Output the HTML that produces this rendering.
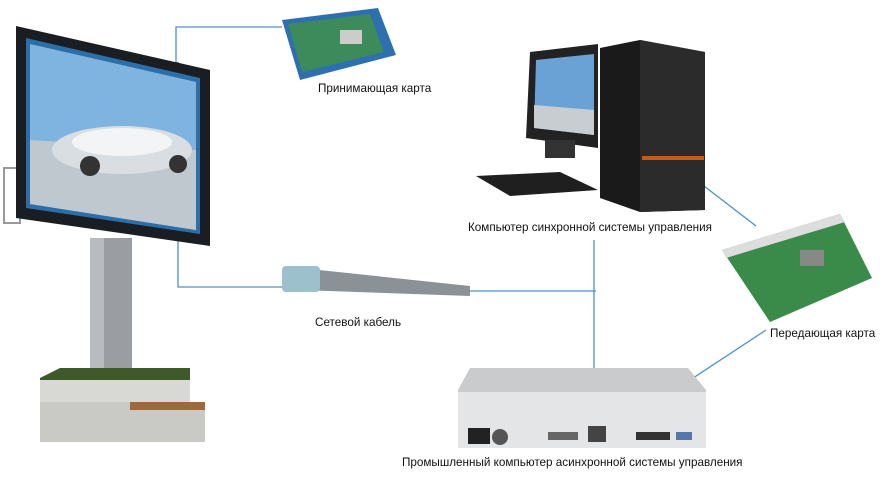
<!DOCTYPE html>
<html><head><meta charset="utf-8"><style>
body{margin:0;width:884px;height:490px;background:#fff;position:relative;overflow:hidden;font-family:"Liberation Sans",sans-serif}
.a{position:absolute}
.t{position:absolute;font-size:11.7px;color:#111;white-space:nowrap}
</style></head><body>
<svg class="a" style="left:0;top:0" width="884" height="490">
<g stroke="#4a90c8" stroke-width="1.3" fill="none">
<polyline points="176,70 176,27 282,27"/>
<polyline points="178,240 178,287 286,287"/>
<line x1="468" y1="291" x2="596" y2="291"/>
<line x1="594" y1="240" x2="594" y2="368"/>
<line x1="678" y1="166" x2="756" y2="226"/>
<line x1="766" y1="330" x2="684" y2="384"/>
</g>
<polygon points="684,384 688,376 692,382" fill="#4a90c8"/>
<polygon points="176,70 173,62 179,62" fill="#4a90c8"/>
<rect x="90" y="238" width="42" height="140" fill="#9a9ea3"/>
<rect x="90" y="238" width="14" height="140" fill="#b8bcc0"/>
<polygon points="40,378 60,368 190,368 190,385 40,385" fill="#3f5a2a"/>
<rect x="40" y="380" width="150" height="24" fill="#d8d8d5"/>
<rect x="40" y="402" width="165" height="40" fill="#c9c9c6"/>
<rect x="130" y="402" width="75" height="8" fill="#a0683a"/>
<rect x="4" y="168" width="16" height="55" fill="none" stroke="#999" stroke-width="2"/>
<polygon points="16,26 210,70 210,246 16,218" fill="#1a1d22"/>
<polygon points="26,38 200,78 200,234 26,208" fill="#2c6fa8"/>
<polygon points="30,44 196,82 196,230 30,204" fill="#7fb4e0"/>
<polygon points="30,140 196,150 196,230 30,204" fill="#bfc8cf"/>
<ellipse cx="122" cy="150" rx="70" ry="24" fill="#d9dee2"/>
<ellipse cx="122" cy="142" rx="50" ry="14" fill="#f2f4f6"/>
<circle cx="90" cy="166" r="10" fill="#333"/><circle cx="178" cy="164" r="9" fill="#333"/>
<polygon points="282,20 378,8 396,55 300,80" fill="#2e6fb0"/>
<polygon points="288,24 370,14 384,52 302,72" fill="#3d8a5a"/>
<rect x="340" y="30" width="22" height="14" fill="#ccc"/>
<polygon points="530,52 598,44 598,148 526,138" fill="#222"/>
<polygon points="536,60 594,54 594,135 534,128" fill="#6aa2d6"/>
<polygon points="534,105 594,110 594,135 534,128" fill="#c8cdd2"/>
<rect x="545" y="140" width="30" height="18" fill="#333"/>
<polygon points="600,48 640,40 705,52 705,210 640,212 600,198" fill="#1a1a1a"/>
<polygon points="640,40 705,52 705,210 640,212" fill="#2b2b2b"/>
<rect x="642" y="156" width="62" height="4" fill="#c85a1c"/>
<polygon points="476,176 560,172 598,190 510,196" fill="#1f1f1f"/>
<polygon points="722,250 840,214 872,278 770,322" fill="#3a8a4a"/>
<polygon points="722,250 840,214 845,222 726,258" fill="#ddd"/>
<rect x="800" y="250" width="24" height="16" fill="#888"/>
<polygon points="300,268 470,286 470,296 300,290" fill="#8a9296"/>
<rect x="282" y="266" width="38" height="26" rx="4" fill="#9cc0cc"/>
<polygon points="470,368 688,368 706,390 706,448 458,448 458,390" fill="#c9cbcd"/>
<polygon points="458,392 706,392 706,448 458,448" fill="#e4e5e6"/>
<rect x="468" y="428" width="22" height="16" fill="#222"/>
<circle cx="500" cy="437" r="8" fill="#555"/>
<rect x="548" y="432" width="30" height="8" fill="#666"/>
<rect x="588" y="426" width="18" height="16" fill="#444"/>
<rect x="636" y="432" width="34" height="8" fill="#333"/>
<rect x="676" y="432" width="16" height="8" fill="#5577aa"/>
</svg>
<div class="t" style="left:318px;top:82px">Принимающая карта</div>
<div class="t" style="left:468px;top:221px">Компьютер синхронной системы управления</div>
<div class="t" style="left:770px;top:327px">Передающая карта</div>
<div class="t" style="left:315px;top:316px">Сетевой кабель</div>
<div class="t" style="left:402px;top:456px">Промышленный компьютер асинхронной системы управления</div>
</body></html>
